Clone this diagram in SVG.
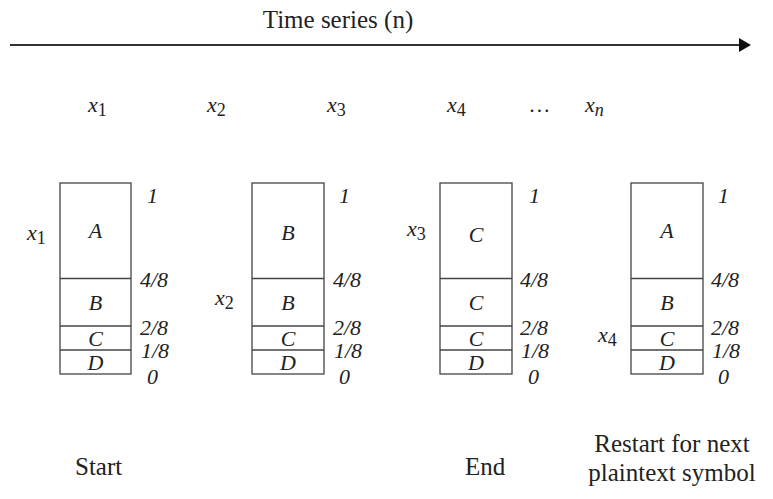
<svg xmlns="http://www.w3.org/2000/svg" width="773" height="499" viewBox="0 0 773 499">
<style>
.t{font-family:"Liberation Serif","Times New Roman",serif;fill:#222}
.it{font-style:italic}
.bx{fill:#fff;stroke:#444;stroke-width:1.3}
.dv{stroke:#444;stroke-width:1.3}
.lab{font-size:22px}
.big{font-size:25px}
.ctr{text-anchor:middle}
</style>
<defs>
<marker id="ah" viewBox="0 0 12 14" refX="0" refY="7" markerWidth="12" markerHeight="14" markerUnits="userSpaceOnUse" orient="auto">
<path d="M0,0 L12,7 L0,14 Z" fill="#111"/>
</marker>
</defs>
<rect width="773" height="499" fill="#fff"/>
<g id="connectors">
<line x1="10" y1="45" x2="739" y2="45" stroke="#333" stroke-width="2" marker-end="url(#ah)"/>
</g>
<g id="title"><text class="t big ctr" x="338" y="28">Time series (n)</text></g>
<g id="sequence" class="t lab">
<text x="88" y="112"><tspan class="it">x</tspan><tspan font-size="18" dy="4">1</tspan></text>
<text x="207" y="112"><tspan class="it">x</tspan><tspan font-size="18" dy="4">2</tspan></text>
<text x="327" y="112"><tspan class="it">x</tspan><tspan font-size="18" dy="4">3</tspan></text>
<text x="447" y="112"><tspan class="it">x</tspan><tspan font-size="18" dy="4">4</tspan></text>
<text x="530" y="112" class="it">…</text>
<text x="585" y="112"><tspan class="it">x</tspan><tspan class="it" font-size="18" dy="4">n</tspan></text>
</g>
<g id="box1">
<rect class="bx" x="60" y="183" width="71" height="191"/>
<line class="dv" x1="60" y1="278.5" x2="131" y2="278.5"/>
<line class="dv" x1="60" y1="326" x2="131" y2="326"/>
<line class="dv" x1="60" y1="350" x2="131" y2="350"/>
<g class="t lab it ctr">
<text x="95.5" y="238">A</text><text x="95.5" y="310">B</text><text x="95.5" y="346">C</text><text x="95.5" y="370">D</text>
</g>
<g class="t lab it">
<text x="147" y="203">1</text><text x="140" y="287">4/8</text><text x="140" y="335">2/8</text><text x="141" y="358">1/8</text><text x="147" y="384">0</text>
</g>
<text class="t lab" x="27" y="240"><tspan class="it">x</tspan><tspan font-size="18" dy="4">1</tspan></text>
</g>
<g id="box2">
<rect class="bx" x="252" y="183" width="72" height="191"/>
<line class="dv" x1="252" y1="278.5" x2="324" y2="278.5"/>
<line class="dv" x1="252" y1="326" x2="324" y2="326"/>
<line class="dv" x1="252" y1="350" x2="324" y2="350"/>
<g class="t lab it ctr">
<text x="288" y="240">B</text><text x="288" y="310">B</text><text x="288" y="346">C</text><text x="288" y="370">D</text>
</g>
<g class="t lab it">
<text x="339" y="203">1</text><text x="333" y="287">4/8</text><text x="333" y="335">2/8</text><text x="334" y="358">1/8</text><text x="339" y="384">0</text>
</g>
<text class="t lab" x="215" y="305"><tspan class="it">x</tspan><tspan font-size="18" dy="4">2</tspan></text>
</g>
<g id="box3">
<rect class="bx" x="440" y="183" width="72" height="191"/>
<line class="dv" x1="440" y1="278.5" x2="512" y2="278.5"/>
<line class="dv" x1="440" y1="326" x2="512" y2="326"/>
<line class="dv" x1="440" y1="350" x2="512" y2="350"/>
<g class="t lab it ctr">
<text x="476" y="242">C</text><text x="476" y="310">C</text><text x="476" y="346">C</text><text x="476" y="370">D</text>
</g>
<g class="t lab it">
<text x="529" y="203">1</text><text x="520" y="287">4/8</text><text x="520" y="335">2/8</text><text x="521" y="358">1/8</text><text x="528" y="384">0</text>
</g>
<text class="t lab" x="407" y="236"><tspan class="it">x</tspan><tspan font-size="18" dy="4">3</tspan></text>
</g>
<g id="box4">
<rect class="bx" x="631" y="183" width="72" height="191"/>
<line class="dv" x1="631" y1="278.5" x2="703" y2="278.5"/>
<line class="dv" x1="631" y1="326" x2="703" y2="326"/>
<line class="dv" x1="631" y1="350" x2="703" y2="350"/>
<g class="t lab it ctr">
<text x="667" y="238">A</text><text x="667" y="310">B</text><text x="667" y="346">C</text><text x="667" y="370">D</text>
</g>
<g class="t lab it">
<text x="718" y="203">1</text><text x="711" y="287">4/8</text><text x="711" y="335">2/8</text><text x="712" y="358">1/8</text><text x="718" y="384">0</text>
</g>
<text class="t lab" x="598" y="342"><tspan class="it">x</tspan><tspan font-size="18" dy="4">4</tspan></text>
</g>
<g id="captions" class="t big">
<text x="75" y="475">Start</text>
<text x="465" y="475">End</text>
<text class="ctr" x="672" y="452">Restart for next</text>
<text class="ctr" x="672" y="481">plaintext symbol</text>
</g>
</svg>
